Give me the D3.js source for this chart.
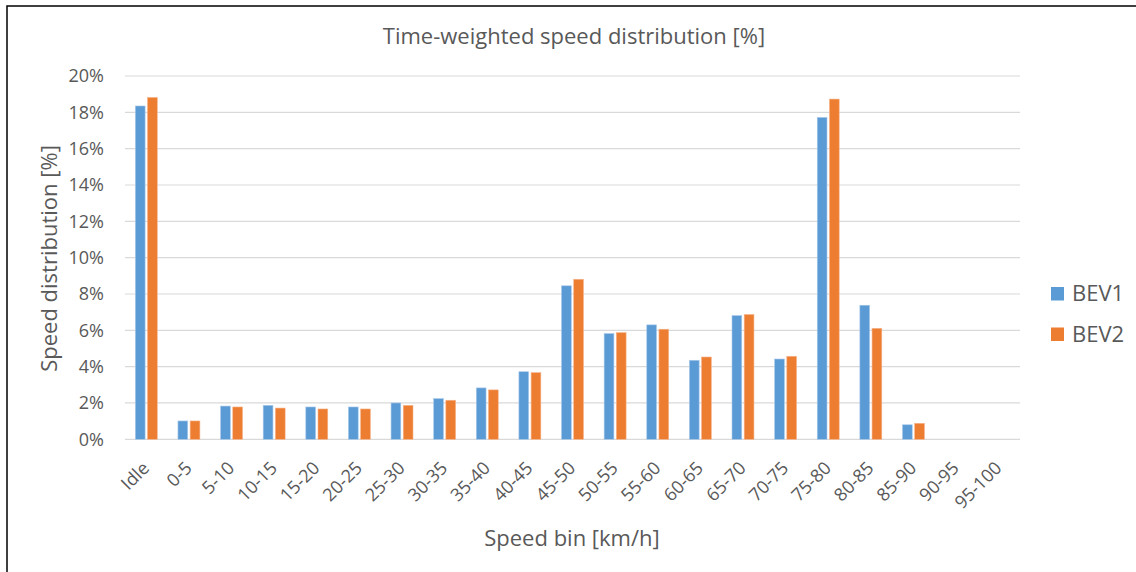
<!DOCTYPE html>
<html>
<head>
<meta charset="utf-8">
<script src="https://cdn.jsdelivr.net/npm/d3@7"></script>
<style>
  body { margin: 0; background: #fff; }
  text { font-family: "Open Sans", sans-serif; fill: #595959; }
</style>
</head>
<body>
<svg id="chart"></svg>
<script>
const categories = ['Idle','0-5','5-10','10-15','15-20','20-25','25-30','30-35','35-40','40-45',
  '45-50','50-55','55-60','60-65','65-70','70-75','75-80','80-85','85-90','90-95','95-100']
const seriesNames = ['BEV1','BEV2']
const bev1 = [18.35,1.01,1.83,1.87,1.78,1.78,2.0,2.24,2.83,3.72,8.45,5.82,6.30,4.35,6.81,4.42,17.72,7.38,0.80,0,0]
const bev2 = [18.82,1.01,1.78,1.72,1.67,1.67,1.87,2.15,2.72,3.67,8.81,5.87,6.06,4.53,6.87,4.57,18.73,6.11,0.88,0,0]
const yTicks = [0,2,4,6,8,10,12,14,16,18,20]
const colors = ['#5b9bd5','#ed7d31']

const width = 1136, height = 572
const plotLeft = 125, plotRight = 1020, plotTop = 76, plotBottom = 439.3

const svg = d3.select('#chart').attr('width',width).attr('height',height)

// frame (only left and top edges are inside the picture)
svg.append('rect').attr('x',7).attr('y',6).attr('width',1140).attr('height',600)
  .attr('fill','none').attr('stroke','#000').attr('stroke-width',1.5)

const x0 = d3.scaleBand().domain(categories).range([plotLeft,plotRight]).paddingInner(0.485).paddingOuter(0.2425)
const x1 = d3.scaleBand().domain(seriesNames).range([0,x0.bandwidth()]).paddingInner(0.2)
const y = d3.scaleLinear().domain([0,20]).range([plotBottom,plotTop])

// gridlines
svg.append('g').selectAll('line').data(yTicks).enter().append('line')
  .attr('x1',plotLeft).attr('x2',plotRight)
  .attr('y1',d=>y(d)).attr('y2',d=>y(d))
  .attr('stroke','#d9d9d9').attr('stroke-width',1.2)

// y axis labels
const yAxis = d3.axisLeft(y).tickValues(yTicks).tickFormat(d=>d+'%').tickSize(0).tickPadding(21)
const yAxisG = svg.append('g').attr('transform',`translate(${plotLeft},0)`).call(yAxis)
yAxisG.select('.domain').remove()
yAxisG.selectAll('text').attr('font-size',18).attr('font-family','"Open Sans", sans-serif').attr('fill','#595959')

// bars
const data = categories.map((c,i)=>({cat:c, values:[bev1[i],bev2[i]]}))
const groups = svg.append('g').selectAll('g').data(data).enter().append('g')
  .attr('transform',d=>`translate(${x0(d.cat)},0)`)
groups.selectAll('rect').data(d=>d.values.map((v,j)=>({name:seriesNames[j],v:v,j:j})))
  .enter().append('rect')
  .attr('x',d=>x1(d.name))
  .attr('width',x1.bandwidth())
  .attr('y',d=>y(d.v))
  .attr('height',d=>plotBottom - y(d.v))
  .attr('fill',d=>colors[d.j])
  .attr('stroke',d=>d.j===0 ? '#a9c9ea' : '#f5b48c')
  .attr('stroke-width',0.6)

// x axis labels
const xAxis = d3.axisBottom(x0).tickSize(0).tickPadding(0)
const xAxisG = svg.append('g').attr('transform',`translate(0,${plotBottom})`).call(xAxis)
xAxisG.select('.domain').remove()
xAxisG.selectAll('text')
  .attr('font-size',18).attr('font-family','"Open Sans", sans-serif').attr('fill','#595959')
  .attr('text-anchor','end').attr('dy',0).attr('y',0)
  .attr('transform','translate(4,30) rotate(-45)')

// title
svg.append('text').attr('x',574).attr('y',43.5).attr('text-anchor','middle')
  .attr('font-size',22).text('Time-weighted speed distribution [%]')

// axis titles
svg.append('text').attr('x',572).attr('y',545.5).attr('text-anchor','middle')
  .attr('font-size',22).text('Speed bin [km/h]')
svg.append('text').attr('transform','translate(57,258.5) rotate(-90)').attr('text-anchor','middle')
  .attr('font-size',22).text('Speed distribution [%]')

// legend
const legend = svg.append('g').selectAll('g').data(seriesNames).enter().append('g')
  .attr('transform',(d,i)=>`translate(1051,${287 + i*40.5})`)
legend.append('rect').attr('width',13).attr('height',13.5).attr('fill',(d,i)=>colors[i])
legend.append('text').attr('x',21).attr('y',14).attr('font-size',22).text(d=>d)
</script>
</body>
</html>
